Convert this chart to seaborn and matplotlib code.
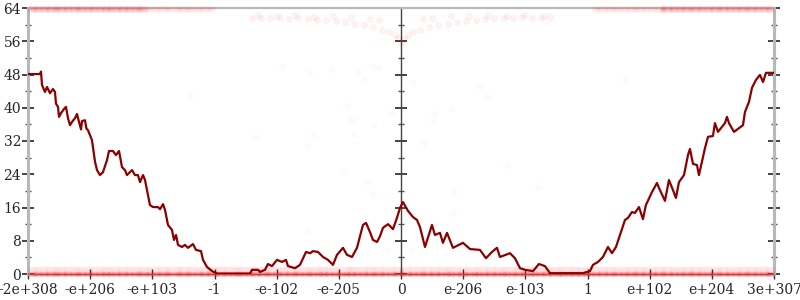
import numpy as np
import pandas as pd
import matplotlib
matplotlib.use("Agg")
import matplotlib.pyplot as plt
from matplotlib.ticker import MultipleLocator
import seaborn as sns

# ---------------- data ----------------
tick_labels = ['-2e+308', '-e+206', '-e+103', '-1', '-e-102', '-e-205', '0',
               'e-206', 'e-103', '1', 'e+102', 'e+204', '3e+307']
y_ticks = [0, 8, 16, 24, 32, 40, 48, 56, 64]

# average error line (x in ordinal tick units, y in bits)
line_x = [0.000, 0.193, 0.209, 0.225, 0.273, 0.306, 0.354, 0.402, 0.434, 0.450, 0.483, 0.499,
          0.531, 0.579, 0.611, 0.643, 0.676, 0.708, 0.756, 0.788, 0.820, 0.853, 0.869, 0.917,
          0.940, 0.965, 1.029, 1.078, 1.110, 1.158, 1.206, 1.271, 1.303, 1.367, 1.415, 1.464,
          1.512, 1.560, 1.592, 1.673, 1.721, 1.769, 1.802, 1.850, 1.882, 1.914, 1.962, 2.011,
          2.091, 2.123, 2.172, 2.204, 2.252, 2.316, 2.348, 2.381, 2.413, 2.477, 2.525, 2.574,
          2.654, 2.702, 2.783, 2.815, 2.879, 2.960, 3.040, 3.571, 3.603, 3.700, 3.732, 3.812,
          3.860, 3.925, 4.005, 4.086, 4.150, 4.182, 4.295, 4.375, 4.472, 4.536, 4.584, 4.665,
          4.745, 4.825, 4.906, 4.970, 5.067, 5.131, 5.212, 5.292, 5.388, 5.437, 5.501, 5.549,
          5.614, 5.662, 5.710, 5.791, 5.871, 5.935, 5.984, 6.032, 6.112, 6.193, 6.257, 6.305,
          6.386, 6.498, 6.546, 6.627, 6.675, 6.740, 6.836, 6.997, 7.110, 7.270, 7.367, 7.463,
          7.544, 7.592, 7.753, 7.833, 7.914, 7.994, 8.123, 8.219, 8.316, 8.396, 8.927, 9.040,
          9.088, 9.169, 9.249, 9.329, 9.394, 9.458, 9.522, 9.603, 9.651, 9.715, 9.764, 9.828,
          9.892, 9.940, 10.037, 10.117, 10.150, 10.246, 10.310, 10.375, 10.423, 10.471, 10.552,
          10.616, 10.648, 10.697, 10.761, 10.793, 10.890, 10.938, 11.018, 11.050, 11.099,
          11.163, 11.211, 11.243, 11.276, 11.356, 11.436, 11.501, 11.533, 11.597, 11.646,
          11.710, 11.774, 11.823, 11.871, 12.000]
line_y = [48.1, 48.1, 48.7, 45.5, 43.8, 45.0, 43.5, 44.5, 43.8, 41.0, 40.2, 37.8,
          38.7, 39.7, 40.2, 37.5, 35.8, 36.6, 37.5, 38.5, 36.6, 34.8, 36.8, 37.0,
          35.0, 34.6, 32.2, 27.0, 25.0, 23.8, 24.5, 27.4, 29.6, 29.6, 28.6, 29.6,
          25.7, 25.0, 23.8, 25.0, 23.8, 23.8, 22.1, 23.8, 22.6, 20.2, 16.6, 16.1,
          16.1, 15.6, 16.8, 15.4, 11.8, 10.6, 8.2, 9.4, 7.0, 6.5, 7.0, 6.3,
          7.2, 5.8, 5.5, 3.4, 1.7, 0.7, 0.1, 0.1, 1.0, 1.0, 0.5, 1.0,
          2.4, 1.9, 3.4, 2.9, 3.4, 1.9, 1.4, 2.2, 5.3, 5.0, 5.5, 5.3,
          4.1, 3.4, 2.2, 4.6, 6.3, 4.6, 4.1, 6.3, 11.8, 12.3, 10.1, 8.2,
          7.7, 9.1, 11.1, 12.0, 10.8, 13.5, 15.9, 17.3, 15.2, 13.7, 13.0, 11.3,
          6.5, 11.8, 9.4, 9.9, 7.5, 9.9, 6.3, 7.5, 6.0, 5.8, 3.8, 5.3,
          6.3, 4.1, 5.0, 3.8, 1.4, 1.0, 0.7, 2.4, 1.9, 0.2, 0.2, 0.7,
          2.2, 2.9, 4.1, 6.5, 5.0, 6.5, 9.4, 13.0, 13.5, 14.9, 14.7, 16.1,
          13.2, 16.6, 19.7, 21.9, 20.7, 17.6, 22.6, 20.2, 18.3, 22.1, 23.8,
          28.6, 30.1, 26.5, 26.2, 23.8, 30.3, 33.0, 33.2, 36.3, 34.2,
          35.4, 36.3, 37.8, 36.3, 34.2, 35.1, 35.8, 39.0, 41.4, 44.8,
          46.7, 47.9, 46.2, 48.4, 48.4]

# sample positions used for the dense bands of sampled points
band_x = [0.04, 0.08, 0.11, 0.15, 0.19, 0.23, 0.27, 0.30, 0.33, 0.38, 0.42, 0.45, 0.48, 0.52,
          0.57, 0.60, 0.63, 0.67, 0.71, 0.75, 0.79, 0.82, 0.86, 0.90, 0.94, 0.98, 1.02, 1.05,
          1.09, 1.13, 1.17, 1.20, 1.24, 1.28, 1.31, 1.35, 1.39, 1.43, 1.46, 1.50, 1.55, 1.58,
          1.61, 1.65, 1.69, 1.73, 1.77, 1.80, 1.84, 1.88, 1.92, 1.95, 1.99, 2.03, 2.07, 2.11,
          2.14, 2.18, 2.22, 2.26, 2.29, 2.33, 2.38, 2.41, 2.44, 2.48, 2.52, 2.55, 2.59, 2.63,
          2.67, 2.71, 2.75, 2.78, 2.82, 2.86, 2.89, 2.93, 2.97, 3.01, 3.04, 3.08, 3.12, 3.16,
          3.19, 3.23, 3.27, 3.31, 3.35, 3.38, 3.41, 3.45, 3.49, 3.53, 3.57, 3.60, 3.64, 3.68,
          3.71, 3.75, 3.79, 3.83, 3.86, 3.90, 3.94, 3.98, 4.02, 4.05, 4.09, 4.13, 4.16, 4.20,
          4.24, 4.28, 4.31, 4.35, 4.39, 4.43, 4.47, 4.50, 4.53, 4.57, 4.61, 4.65, 4.69, 4.72,
          4.76, 4.80, 4.83, 4.87, 4.91, 4.95, 4.98, 5.02, 5.06, 5.10, 5.14, 5.17, 5.21, 5.25,
          5.28, 5.32, 5.36, 5.40, 5.43, 5.47, 5.51, 5.55, 5.58, 5.62, 5.66, 5.70, 5.73, 5.77,
          5.81, 5.85, 5.88, 5.92, 5.96, 6.00, 6.03, 6.07, 6.11, 6.15, 6.18, 6.22, 6.26, 6.30,
          6.33, 6.37, 6.41, 6.45, 6.48, 6.52, 6.56, 6.60, 6.63, 6.67, 6.71, 6.75, 6.78, 6.82,
          6.86, 6.90, 6.93, 6.97, 7.01, 7.05, 7.08, 7.12, 7.16, 7.20, 7.23, 7.27, 7.31, 7.35,
          7.38, 7.42, 7.46, 7.50, 7.53, 7.57, 7.61, 7.65, 7.68, 7.72, 7.76, 7.80, 7.83, 7.87,
          7.91, 7.95, 7.98, 8.02, 8.06, 8.10, 8.13, 8.17, 8.21, 8.25, 8.28, 8.32, 8.36, 8.40,
          8.43, 8.47, 8.51, 8.55, 8.58, 8.62, 8.66, 8.70, 8.73, 8.77, 8.81, 8.85, 8.88, 8.92,
          8.96, 9.00, 9.03, 9.07, 9.11, 9.15, 9.18, 9.22, 9.26, 9.30, 9.33, 9.37, 9.41, 9.45,
          9.48, 9.52, 9.56, 9.60, 9.63, 9.67, 9.71, 9.75, 9.78, 9.82, 9.86, 9.90, 9.93, 9.97,
          10.01, 10.05, 10.08, 10.12, 10.16, 10.20, 10.23, 10.27, 10.31, 10.35, 10.38, 10.42,
          10.46, 10.50, 10.53, 10.57, 10.61, 10.65, 10.68, 10.72, 10.76, 10.80, 10.83, 10.87,
          10.91, 10.95, 10.98, 11.02, 11.06, 11.10, 11.13, 11.17, 11.21, 11.25, 11.28, 11.32,
          11.36, 11.40, 11.43, 11.47, 11.51, 11.55, 11.58, 11.62, 11.66, 11.70, 11.73, 11.77,
          11.81, 11.85, 11.88, 11.92, 11.96]
bottom_band_y = [0.0, 0.3, 1.1]
top_band_y = [63.5, 63.9]
top_strong = [(0.0, 1.9), (10.2, 12.0)]
top_faint = [(1.9, 3.0), (9.1, 10.2)]

# the "V" of samples near the top around zero
v_x = [3.60, 3.75, 3.90, 4.05, 4.20, 4.35, 4.50, 4.65, 4.80, 4.95, 5.10, 5.25, 5.40, 5.55,
       5.70, 5.80, 5.90, 5.95, 6.00, 6.05, 6.12, 6.20, 6.30, 6.45, 6.60, 6.75, 6.90, 7.05,
       7.20, 7.35, 7.50, 7.65, 7.80, 7.95, 8.10, 8.25, 8.40,
       3.70, 4.00, 4.30, 4.60, 4.90, 5.20, 5.50, 5.65, 6.35, 6.50, 6.80, 7.10, 7.40, 7.70, 8.00, 8.30]
v_y = [61.6, 61.7, 61.5, 61.6, 61.4, 61.5, 61.3, 61.2, 61.1, 60.9, 60.6, 60.2, 59.9, 59.4,
       58.7, 58.2, 57.6, 56.8, 55.6, 56.6, 57.6, 58.2, 58.7, 59.4, 59.8, 60.2, 60.6, 60.9,
       61.1, 61.3, 61.5, 61.6, 61.7, 61.8, 61.6, 61.7, 61.8,
       62.2, 62.1, 62.2, 61.9, 62.0, 61.8, 61.4, 61.2, 61.3, 61.7, 62.0, 62.1, 62.2, 62.0, 62.2, 62.1]

# isolated sampled points
iso_x = [4.52, 4.89, 5.31, 5.41, 5.55, 5.65, 6.19, 7.27, 7.38, 5.13, 5.84, 6.80, 5.16, 5.23,
         5.57, 6.55, 6.51, 4.60, 5.24, 4.49, 6.37, 5.07, 5.45, 5.55, 4.49, 5.78, 6.85, 6.84,
         6.16, 5.18, 3.67, 4.10, 7.70, 8.20, 2.60, 9.60]
iso_y = [48.6, 49.3, 48.6, 46.7, 50.0, 49.8, 46.2, 45.2, 42.6, 40.4, 38.7, 39.7, 37.5, 36.8,
         35.8, 38.7, 36.8, 33.7, 33.7, 30.8, 31.5, 24.8, 22.1, 19.2, 10.3, 6.0, 19.7, 14.7,
         6.0, 1.7, 33.0, 50.0, 26.0, 21.0, 43.0, 47.0]

# ---------------- build frames ----------------
line_df = pd.DataFrame({"x": line_x, "y": line_y})


def band_frame(xs, ys, ranges=None):
    px, py = [], []
    for yv in ys:
        for xv in xs:
            if ranges is None or any(a <= xv <= b for a, b in ranges):
                px.append(xv)
                py.append(yv)
    return pd.DataFrame({"x": px, "y": py})


bottom_df = band_frame(band_x, bottom_band_y[:1])
bottom_mid_df = band_frame(band_x, bottom_band_y[1:2])
bottom_light_df = band_frame(band_x, bottom_band_y[2:])
top_strong_df = band_frame(band_x, top_band_y, top_strong)
top_faint_df = band_frame(band_x, top_band_y, top_faint)
v_df = pd.DataFrame({"x": v_x, "y": v_y})
iso_df = pd.DataFrame({"x": iso_x, "y": iso_y})

# ---------------- figure ----------------
sns.set_style("white")
plt.rcParams["font.family"] = ["DejaVu Serif"]

fig = plt.figure(figsize=(8, 3), dpi=100)
ax = fig.add_axes([28 / 800, 26 / 300, 746 / 800, 266 / 300])

common = dict(ax=ax, x="x", y="y", color="red", zorder=2, legend=False, clip_on=False)
sns.scatterplot(data=bottom_df, s=12, alpha=0.22, linewidth=0, **common)
sns.scatterplot(data=bottom_mid_df, s=14, alpha=0.08, linewidth=0, **common)
sns.scatterplot(data=bottom_light_df, s=18, alpha=0.05, linewidth=0, **common)
sns.scatterplot(data=top_strong_df, s=12, alpha=0.10, linewidth=0, **common)
sns.scatterplot(data=top_faint_df, s=12, alpha=0.04, linewidth=0, **common)
sns.scatterplot(data=v_df, s=18, alpha=0.05, linewidth=0.6, edgecolor="red", **common)
sns.scatterplot(data=iso_df, s=18, alpha=0.025, linewidth=0, **common)
sns.lineplot(data=line_df, x="x", y="y", ax=ax, color="#8b0000", linewidth=1.6,
             sort=False, estimator=None, zorder=4)

ax.set_xlim(0, 12)
ax.set_ylim(0, 64)
ax.set_xlabel("")
ax.set_ylabel("")

ax.set_xticks(range(len(tick_labels)))
ax.set_xticklabels(tick_labels)
ax.set_yticks(y_ticks)
ax.set_yticklabels([str(v) for v in y_ticks])
ax.yaxis.set_minor_locator(MultipleLocator(4))

for side in ["left", "right"]:
    ax.spines[side].set_color("#b8b8b8")
    ax.spines[side].set_linewidth(2.2)
ax.spines["top"].set_color("#b8b8b8")
ax.spines["top"].set_linewidth(1.6)
ax.spines["bottom"].set_color("#888888")
ax.spines["bottom"].set_linewidth(1.0)
for s in ax.spines.values():
    s.set_zorder(1)

ax.tick_params(axis="y", which="major", direction="inout", length=8, width=1.1,
               color="#111111", labelsize=10, pad=1, left=True)
ax.tick_params(axis="y", which="minor", direction="inout", length=4, width=1.0,
               color="#555555", left=True)
ax.tick_params(axis="x", which="major", direction="inout", length=7.5, width=1.0,
               color="#333333", labelsize=10, pad=3, bottom=True)

# centre axis and right axis
ax.axvline(6, color="#444444", linewidth=1.0, zorder=1)
for loc in [0.5, 1.0]:
    sec = ax.secondary_yaxis(loc)
    sec.set_yticks(y_ticks)
    sec.yaxis.set_minor_locator(MultipleLocator(4))
    sec.tick_params(axis="y", which="major", direction="inout", length=8, width=1.1,
                    color="#111111", labelleft=False, labelright=False)
    sec.tick_params(axis="y", which="minor", direction="inout", length=4, width=1.0,
                    color="#555555")
    sec.spines["right"].set_visible(loc == 1.0)
    sec.spines["left"].set_visible(False)
    sec.spines["right"].set_color("#b8b8b8")
    sec.spines["right"].set_linewidth(2.2)
    sec.set_yticklabels([])

fig.savefig("out.png", dpi=100)
